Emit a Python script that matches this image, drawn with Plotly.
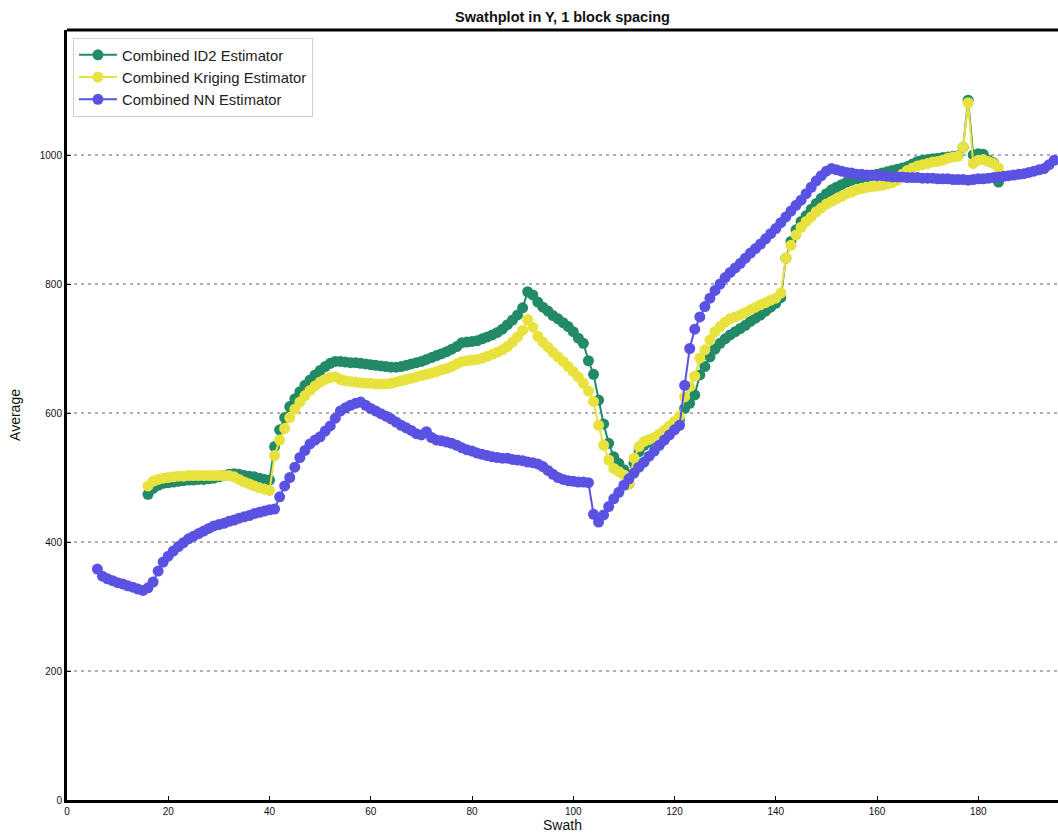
import plotly.graph_objects as go

# ---- data ----
nn_x_start = 6
nn_vals = [358, 347, 343, 340, 337, 335, 332, 330, 327, 325,
           329, 338, 355, 369, 378, 386, 393, 399, 405, 409,
           413, 417, 421, 425, 427, 429, 432, 434, 437, 439,
           441, 444, 446, 448, 450, 451, 470, 487, 500, 516,
           531, 542, 552, 558, 563, 572, 580, 592, 603, 608,
           612, 615, 617, 612, 607, 603, 599, 595, 591, 586,
           581, 577, 573, 568, 566, 571, 562, 558, 557, 555,
           553, 550, 546, 543, 541, 538, 536, 534, 532, 531,
           530, 530, 528, 527, 526, 524, 523, 521, 517, 511,
           505, 500, 497, 495, 494, 493, 493, 492, 443, 431,
           442, 455, 467, 477, 488, 498, 507, 516, 524, 533,
           541, 550, 558, 566, 574, 581, 643, 700, 730, 749,
           765, 778, 790, 800, 810, 818, 825, 832, 840, 848,
           855, 862, 870, 878, 886, 895, 904, 913, 922, 930,
           940, 950, 960, 968, 975, 979, 977, 975, 973, 972,
           970, 970, 969, 969, 968, 968, 967, 966, 966, 966,
           965, 965, 965, 964, 964, 964, 963, 963, 963, 962,
           962, 962, 961, 962, 963, 963, 964, 965, 966, 967,
           968, 969, 970, 971, 973, 975, 977, 979, 985, 992]

id2_x_start = 16
id2_vals = [474, 483, 488, 491, 492, 493, 494, 495, 496, 496,
            497, 497, 498, 499, 501, 503, 505, 506, 505, 503,
            502, 501, 499, 497, 496, 548, 574, 593, 610, 622,
            633, 643, 651, 659, 666, 672, 677, 680, 680, 679,
            678, 678, 677, 676, 675, 674, 673, 672, 671, 671,
            672, 674, 676, 678, 680, 683, 686, 689, 692, 695,
            699, 703, 709, 710, 711, 712, 715, 718, 721, 725,
            730, 737, 744, 752, 763, 788, 783, 772, 764, 758,
            751, 746, 740, 734, 726, 716, 708, 681, 660, 620,
            583, 553, 532, 522, 512, 490, 522, 540, 550, 555,
            560, 566, 572, 578, 585, 590, 607, 615, 628, 659,
            672, 687, 699, 708, 715, 721, 726, 731, 736, 742,
            747, 752, 758, 764, 770, 779, 840, 866, 884, 897,
            906, 916, 925, 933, 940, 946, 950, 954, 958, 961,
            963, 965, 966, 968, 970, 972, 974, 976, 978, 980,
            982, 986, 990, 992, 993, 994, 995, 996, 997, 998,
            999, 1012, 1085, 1000, 1002, 1001, 992, 988, 958]

krig_x_start = 16
krig_vals = [487, 494, 497, 499, 500, 501, 502, 502, 503, 503,
             503, 503, 503, 503, 503, 503, 503, 501, 497, 493,
             490, 487, 484, 482, 480, 534, 558, 576, 593, 606,
             617, 627, 635, 642, 648, 652, 655, 656, 652, 650,
             649, 648, 647, 646, 646, 645, 645, 645, 646, 648,
             650, 652, 654, 656, 658, 660, 662, 664, 667, 669,
             672, 676, 680, 681, 682, 683, 685, 688, 691, 694,
             698, 703, 710, 718, 728, 745, 733, 719, 710, 702,
             694, 687, 680, 672, 664, 656, 646, 634, 618, 581,
             550, 527, 514, 509, 504, 490, 530, 548, 556, 559,
             562, 567, 573, 580, 587, 595, 625, 641, 657, 685,
             698, 713, 726, 734, 741, 746, 749, 752, 756, 760,
             764, 768, 771, 775, 778, 786, 840, 860, 876, 888,
             897, 904, 912, 918, 924, 928, 932, 936, 940, 943,
             946, 948, 950, 951, 952, 953, 955, 957, 961, 970,
             976, 980, 983, 985, 987, 989, 990, 992, 995, 997,
             998, 1012, 1081, 987, 992, 993, 990, 987, 980]

x_ticks = [0, 20, 40, 60, 80, 100, 120, 140, 160, 180]
y_ticks = [0, 200, 400, 600, 800, 1000]

nn_x = list(range(nn_x_start, nn_x_start + len(nn_vals)))
id2_x = list(range(id2_x_start, id2_x_start + len(id2_vals)))
krig_x = list(range(krig_x_start, krig_x_start + len(krig_vals)))

series_names = ["Combined ID2 Estimator", "Combined Kriging Estimator", "Combined NN Estimator"]
colors = ["#238A68", "#E8E23E", "#5A52E2"]

fig = go.Figure()
for name, xs, ys, col in zip(series_names,
                             [id2_x, krig_x, nn_x],
                             [id2_vals, krig_vals, nn_vals],
                             colors):
    fig.add_trace(go.Scatter(
        x=xs, y=ys, name=name, mode="lines+markers",
        line=dict(color=col, width=2),
        marker=dict(color=col, size=11, line=dict(width=0)),
    ))

FONT = "Liberation Sans, Arial, sans-serif"
fig.update_layout(
    width=1058, height=836,
    margin=dict(l=67, r=0, t=30, b=36, autoexpand=False),
    paper_bgcolor="white", plot_bgcolor="white",
    font=dict(family=FONT, color="#111", size=10),
    title=dict(text="<b>Swathplot in Y, 1 block spacing</b>",
               x=0.5, xref="paper", xanchor="center",
               y=1 - 17 / 836, yanchor="middle",
               font=dict(size=14.5, family=FONT, color="#111")),
    legend=dict(x=0.006, y=0.99, xanchor="left", yanchor="top",
                bgcolor="rgba(255,255,255,0.85)", bordercolor="#d0d0d0",
                borderwidth=1, itemwidth=38,
                font=dict(size=14.8, family=FONT, color="#222")),
    showlegend=True,
)
fig.update_xaxes(
    range=[0, 195.75], tickvals=x_ticks,
    showgrid=False, zeroline=False,
    showline=True, linecolor="black", linewidth=3, mirror=False,
    ticks="inside", ticklen=4, tickwidth=1, tickcolor="black",
    tickfont=dict(size=10, family=FONT),
    title=dict(text="Swath", font=dict(size=14, family=FONT), standoff=4),
)
fig.update_yaxes(
    range=[0, 1193.8], tickvals=y_ticks,
    showgrid=True, gridcolor="#b0b0b0", gridwidth=2, griddash="3px,4px",
    zeroline=False,
    showline=True, linecolor="black", linewidth=3, mirror=False,
    ticks="inside", ticklen=4, tickwidth=1, tickcolor="black",
    tickfont=dict(size=10, family=FONT),
    title=dict(text="Average", font=dict(size=14, family=FONT), standoff=16),
)
# top spine only (no right spine visible in reference)
fig.add_shape(type="line", xref="paper", yref="paper", x0=0, x1=1, y0=1, y1=1,
              line=dict(color="black", width=3))

fig.write_html("out.html",
               config={"displayModeBar": False},
               post_script="document.body.style.margin='0';document.body.style.overflow='hidden';")
